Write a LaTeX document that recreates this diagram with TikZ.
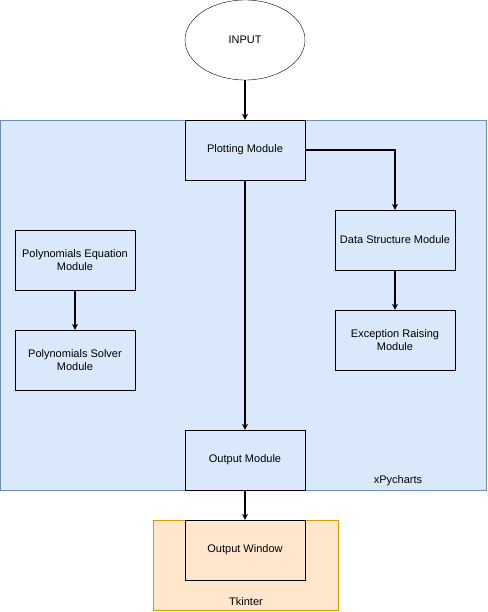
\documentclass[tikz,border=0pt]{standalone}
\usepackage{fontspec}
\setmainfont{Liberation Sans}
\usetikzlibrary{arrows.meta,shapes.geometric}
\definecolor{pyfill}{HTML}{DAE8FC}
\definecolor{pyline}{HTML}{6C8EBF}
\definecolor{tkfill}{HTML}{FFE6CC}
\definecolor{tkline}{HTML}{D79B00}

\begin{document}
\begin{tikzpicture}[x=1pt,y=-1pt,
    every node/.style={font=\fontsize{11}{13}\selectfont, align=center},
    module/.style={draw=black, minimum width=120pt, minimum height=60pt,
        inner sep=0pt},
    link/.style={-{Stealth[length=6pt,width=6pt]}, line width=1.6pt}]
    \useasboundingbox (0,0) rectangle (487,612);

    % containers
    \draw[fill=pyfill,draw=pyline] (0.5,120) rectangle (486,490);
    \draw[fill=tkfill,draw=tkline] (153,520) rectangle (338,610);
    \node (xpy) at (398,481) {xPycharts};
    \node (tk)  at (246,602) {Tkinter};

    \node[draw, ellipse, minimum width=120pt, minimum height=80pt, inner sep=0pt]
        (input) at (245,40) {INPUT};
    \node[module, fill=pyfill] (plot)   at (245,150) {Plotting Module};
    \node[module] (data)   at (395,240) {Data Structure Module};
    \node[module] (except) at (395,340) {Exception Raising\\Module};
    \node[module] (polyeq) at (75,260)  {Polynomials Equation\\Module};
    \node[module] (polysv) at (75,360)  {Polynomials Solver\\Module};
    \node[module] (out)    at (245,460) {Output Module};
    \node[module] (win)    at (245,550) {Output Window};

    \draw[link] (input) -- (plot);
    \draw[link] (plot) -- (out);
    \draw[link] (plot.east) -| (data.north);
    \draw[link] (data) -- (except);
    \draw[link] (polyeq) -- (polysv);
    \draw[link] (out) -- (win);

\end{tikzpicture}
\end{document}
